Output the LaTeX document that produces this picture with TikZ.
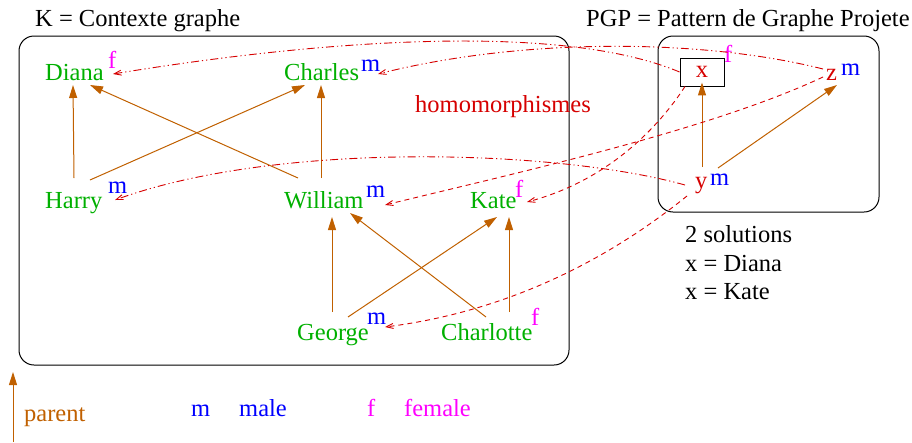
\documentclass[tikz,border=0pt]{standalone}
\usepackage{fontspec}
\setmainfont{Liberation Serif}
\usetikzlibrary{arrows.meta}
\definecolor{kgreen}{RGB}{0,176,0}
\definecolor{kblue}{RGB}{0,0,255}
\definecolor{kmag}{RGB}{255,0,255}
\definecolor{kred}{RGB}{214,0,0}
\definecolor{kbrown}{RGB}{192,96,0}
\tikzset{
  txt/.style={inner sep=0pt, anchor=base west, font=\fontsize{24.5}{29}\selectfont},
  person/.style={txt, text=kgreen},
  male/.style={txt, text=kblue},
  fem/.style={txt, text=kmag},
  pvar/.style={txt, text=kred},
  par/.style={draw=kbrown, line width=1pt, -{Triangle[length=13pt,width=8pt]}},
  hom/.style={draw=kred, line width=0.9pt, -{Straight Barb[length=7pt,width=5pt]}},
  homa/.style={hom, dash pattern=on 8pt off 3pt on 1.2pt off 3pt on 1.2pt off 3pt},
  homb/.style={hom, dash pattern=on 5pt off 4pt},
  frame/.style={draw=black, line width=1pt, rounded corners=15pt}
}
\begin{document}
\begin{tikzpicture}[x=1pt,y=-1pt]
\useasboundingbox (0,0) rectangle (912,442);
% frames
\draw[frame] (19,36) rectangle (569,365);
\draw[frame] (658,36) rectangle (879,212);
% titles
\node[txt] (ktitle) at (35,26) {K = Contexte graphe};
\node[txt] (ptitle) at (586,26) {PGP = Pattern de Graphe Projete};
% persons
\node[person] (diana) at (45,80) {Diana};
\node[fem] (dianaf) at (108,68) {f};
\node[person] (charles) at (284,80) {Charles};
\node[male] (charlesm) at (361,71) {m};
\node[pvar] (homo) at (415,112) {homomorphismes};
\node[person] (harry) at (45,208) {Harry};
\node[male] (harrym) at (108,193) {m};
\node[person] (william) at (284,208) {William};
\node[male] (williamm) at (366,197) {m};
\node[person] (kate) at (470,208) {Kate};
\node[fem] (katef) at (515,197) {f};
\node[person] (george) at (297,340) {George};
\node[male] (georgem) at (367,324) {m};
\node[person] (charlotte) at (441,340) {Charlotte};
\node[fem] (charlottef) at (531,325) {f};
% pattern
\node[pvar, draw=black, line width=0.9pt, anchor=center, minimum width=44pt, minimum height=28pt] (x) at (702,72) {x};
\node[fem] (xf) at (724,62) {f};
\node[pvar] (z) at (826,80) {z};
\node[male] (zm) at (841,75) {m};
\node[pvar] (y) at (695,188) {y};
\node[male] (ym) at (710,185) {m};
% solutions
\node[txt] (sol) at (685,242) {2 solutions};
\node[txt] (sol1) at (685,271) {x = Diana};
\node[txt] (sol2) at (685,299) {x = Kate};
% parent arrows
\draw[par] ([shift={(29,-30)}]harry.base west) -- ([shift={(28,5)}]diana.base west);
\draw[par] ([shift={(45,-28)}]harry.base west) -- ([shift={(21,5)}]charles.base west);
\draw[par] ([shift={(14,-30)}]william.base west) -- ([shift={(45,5)}]diana.base west);
\draw[par] ([shift={(37,-30)}]william.base west) -- ([shift={(37,5)}]charles.base west);
\draw[par] ([shift={(35,-28)}]george.base west) -- ([shift={(48,9)}]william.base west);
\draw[par] ([shift={(51,-23)}]george.base west) -- ([shift={(27,9)}]kate.base west);
\draw[par] ([shift={(45,-23)}]charlotte.base west) -- ([shift={(66,5)}]william.base west);
\draw[par] ([shift={(68,-28)}]charlotte.base west) -- ([shift={(39,9)}]kate.base west);
\draw[par] ([shift={(7,-21)}]y.base west) -- ([yshift=4pt]x.south);
\draw[par] ([shift={(23,-20)}]y.base west) -- ([shift={(11,5)}]z.base west);
% homomorphisms
\draw[homa] (x.west) .. controls (560,22) and (320,40) .. ([shift={(68,-6)}]diana.base west);
\draw[homa] ([shift={(-3,-11)}]z.base west) .. controls (700,38) and (520,38) .. ([shift={(94,-6)}]charles.base west);
\draw[homa] ([shift={(-10,-3)}]y.base west) .. controls (560,150) and (280,140) .. ([shift={(70,-8)}]harry.base west);
\draw[homb] ([shift={(-17,0)}]x.south) .. controls (660,125) and (610,180) .. ([shift={(57,-6)}]kate.base west);
\draw[homb] ([shift={(-3,-3)}]z.base west) .. controls (710,130) and (520,172) .. ([shift={(101,-3)}]william.base west);
\draw[homb] ([shift={(-8,8)}]y.base west) .. controls (620,250) and (520,310) .. ([shift={(88,-13)}]george.base west);
% legend
\coordinate (legbot) at (13,442);
\coordinate (legtop) at (13,372);
\draw[par] (legbot) -- (legtop);
\node[txt, text=kbrown] (parent) at (24,421) {parent};
\node[male] (lm) at (191,416) {m};
\node[male] (lmale) at (239,416) {male};
\node[fem] (lf) at (367,416) {f};
\node[fem] (lfemale) at (404,416) {female};
\end{tikzpicture}
\end{document}
